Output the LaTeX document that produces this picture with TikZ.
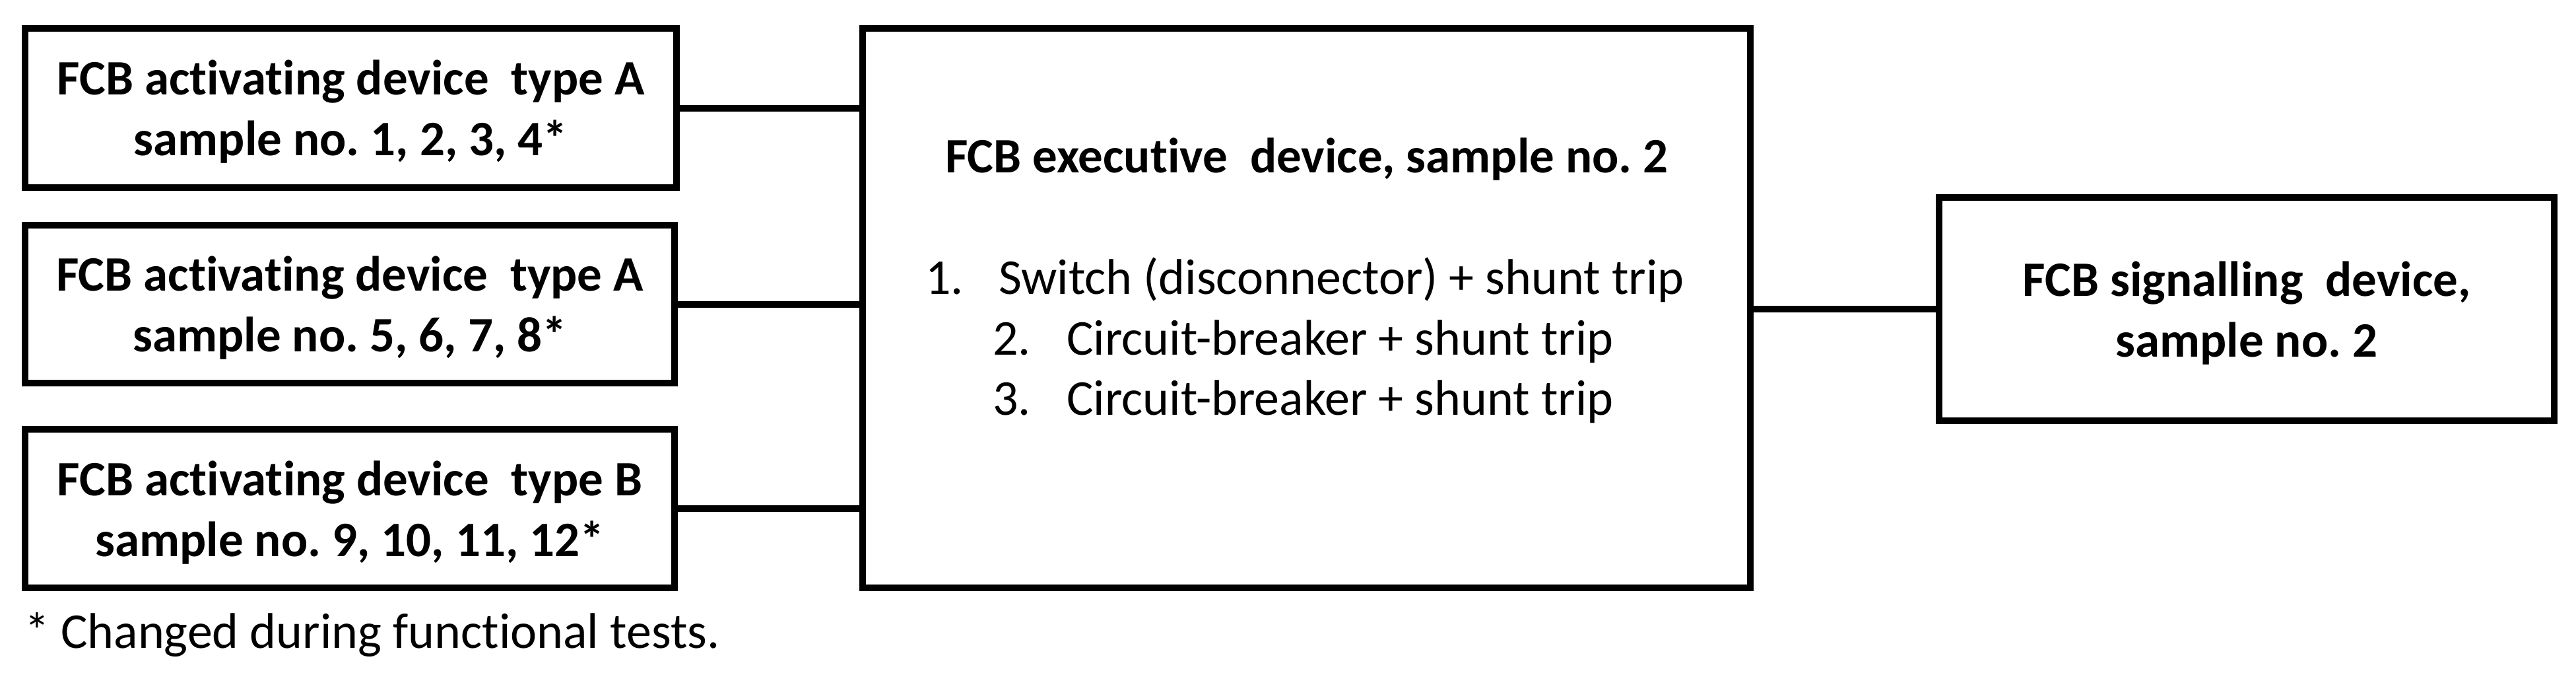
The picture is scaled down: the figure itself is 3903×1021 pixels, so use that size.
\documentclass[tikz,border=0pt]{standalone}
\usepackage{fontspec}
\setmainfont{Carlito}[Ligatures=NoCommon]
\begin{document}
\frenchspacing
\begin{tikzpicture}[x=1pt,y=-1pt,
  box/.style={draw=black,line width=10pt,inner sep=0pt,fill=white},
  boxtext/.style={align=center,font=\fontsize{75}{92}\selectfont\bfseries\frenchspacing,text depth=0pt},
  listtext/.style={anchor=base west,inner sep=0pt,font=\fontsize{76}{92}\selectfont\frenchspacing},
  wire/.style={line width=10pt}]
\useasboundingbox (0,0) rectangle (3903,1021);
% left boxes
\node[box,boxtext,minimum width=987pt,minimum height=241pt] (a1) at (531.5,163.5)
  {FCB activating device\ \ type A\\sample no. 1, 2, 3, 4*};
\node[box,boxtext,minimum width=984pt,minimum height=239pt] (a2) at (530,460.5)
  {FCB activating device\ \ type A\\sample no. 5, 6, 7, 8*};
\node[box,boxtext,minimum width=984pt,minimum height=240pt] (a3) at (530,770)
  {FCB activating device\ \ type B\\sample no. 9, 10, 11, 12*};
% centre box
\node[box,minimum width=1345pt,minimum height=847pt] (cb) at (1979.5,466.5) {};
\node[anchor=base,inner sep=0pt,font=\fontsize{75}{92}\selectfont\bfseries\frenchspacing] (ct) at (1980,261)
  {FCB executive\ \ device, sample no. 2};
\node[listtext] (n1) at (1402,445) {1.};
\node[listtext] (l1) at (1513,445) {Switch (disconnector) + shunt trip};
\node[listtext] (n2) at (1504,537) {2.};
\node[listtext] (l2) at (1616,537) {Circuit-breaker + shunt trip};
\node[listtext] (n3) at (1504,628) {3.};
\node[listtext] (l3) at (1616,628) {Circuit-breaker + shunt trip};
% right box
\node[box,boxtext,minimum width=932pt,minimum height=338pt] (rb) at (3404,468)
  {FCB signalling\ \ device,\\sample no. 2};
% connectors
\draw[wire] (a1.east) -- (a1.east -| cb.west);
\draw[wire] (a2.east) -- (a2.east -| cb.west);
\draw[wire] (a3.east) -- (a3.east -| cb.west);
\draw[wire] (cb.east) -- (cb.east |- rb.west) -- (rb.west);
% footnote
\node[anchor=base west,inner sep=0pt,font=\fontsize{76}{92}\selectfont\frenchspacing] (fn) at (37,981)
  {* Changed during functional tests.};
\end{tikzpicture}
\end{document}
